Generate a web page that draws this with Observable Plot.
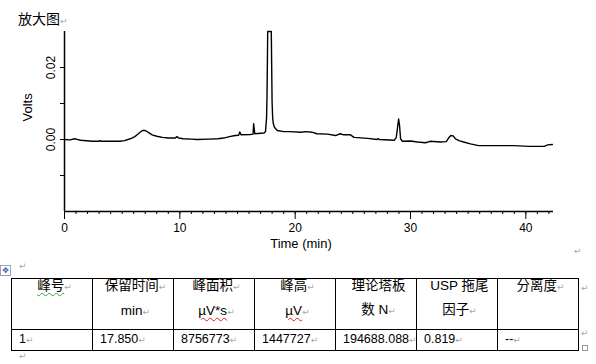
<!DOCTYPE html>
<html><head><meta charset="utf-8">
<script src="https://cdn.jsdelivr.net/npm/d3@7"></script>
<script src="https://cdn.jsdelivr.net/npm/@observablehq/plot@0.6"></script>
<style>
html,body{margin:0;padding:0;background:#fff;}
body{width:596px;height:364px;overflow:hidden;position:relative;font-family:"Liberation Sans",Arial,"Noto Sans CJK SC",sans-serif;color:#000;}
.pm{color:#a8a8a8;font-family:"DejaVu Sans",sans-serif;font-size:9px;font-weight:normal;}
#title{position:absolute;left:18px;top:10px;font-family:"Noto Sans CJK SC",sans-serif;font-size:14px;line-height:16px;}
#chart{position:absolute;left:0;top:26px;}
#tbl{position:absolute;left:11px;top:278px;border-collapse:collapse;table-layout:fixed;width:568px;}
#tbl td{border:1px solid #000;white-space:nowrap;overflow:visible;}
#tbl tr.hdr td{height:44px;vertical-align:top;text-align:center;padding:0 0 0 5px;font-size:13.5px;}
#tbl tr.hdr td div{line-height:24px;position:relative;top:-5px;font-family:"Liberation Sans",Arial,"Noto Sans CJK SC",sans-serif;}
#tbl tr.dat td{height:19px;vertical-align:middle;text-align:left;padding:0 0 0 7px;font-size:12.5px;line-height:19px;}
.wg{text-decoration:underline wavy #3a9a3a;text-decoration-thickness:1px;text-underline-offset:2px;}
.wr{text-decoration:underline wavy #e02020;text-decoration-thickness:1px;text-underline-offset:2px;}
.abs{position:absolute;}
#handle{position:absolute;left:0;top:265px;width:9px;height:9px;border:1px solid #9aa4b8;font-size:8px;line-height:9px;text-align:center;color:#2a5db0;font-family:"DejaVu Sans",sans-serif;}
#endbox{position:absolute;left:582px;top:345px;width:4px;height:4px;border:1px solid #9a9a9a;}
</style>
</head><body>
<div id="title">放大图<span class="pm">↵</span></div>
<div id="chart"></div>
<span class="pm abs" style="left:574px;top:246px">↵</span>
<div id="handle">✥</div>
<span class="pm abs" style="left:19px;top:261px">↵</span>
<table id="tbl"></table>
<span class="pm abs" style="left:581px;top:283px">↵</span>
<span class="pm abs" style="left:581px;top:328px">↵</span>
<div id="endbox"></div>
<span class="pm abs" style="left:19px;top:351px">↵</span>
<script>
// ---- chromatogram trace (time in min, signal in volts) ----
const times = [
  0, 0.5, 0.87, 1.0, 1.4, 2.4, 3.0, 3.1, 3.2, 4.8, 5.2, 5.7,
  6.1, 6.4, 6.75, 7.0, 7.3, 7.6, 8.0, 8.5, 9.0, 9.6, 9.75, 9.9,
  10.3, 11.0, 11.5, 12.5, 13.3, 13.8, 14.3, 14.8, 15.1, 15.2, 15.3, 16.1,
  16.35, 16.4, 16.5, 17.3, 17.43, 17.52, 17.56, 17.62, 17.85, 17.93, 18.0, 18.05,
  18.1, 18.2, 18.45, 19.0, 19.5, 20.5, 20.9, 21.5, 21.9, 22.8, 23.5, 23.9,
  24.2, 24.8, 25.1, 26.3, 27.1, 27.2, 27.3, 28.6, 28.77, 28.88, 28.97, 29.05,
  29.14, 29.3, 30.0, 30.6, 31.3, 31.7, 32.6, 33.1, 33.3, 33.5, 33.7, 33.9,
  34.2, 34.6, 35.2, 35.9, 39.0, 40.3, 41.6, 41.9, 42.3
];
const volts = [
  0.0000, -0.0001, 0.0002, 0.0001, -0.0002, -0.0005, -0.0005, -0.0003, -0.0005, -0.0005, -0.0003, 0.0002,
  0.0008, 0.0016, 0.0025, 0.0025, 0.0019, 0.0013, 0.0009, 0.0006, 0.0004, 0.0004, 0.0008, 0.0004,
  0.0002, 0.0001, 0.0000, 0.0001, 0.0002, 0.0004, 0.0008, 0.0011, 0.0012, 0.0021, 0.0013, 0.0014,
  0.0015, 0.0044, 0.0016, 0.0018, 0.0022, 0.0060, 0.0120, 0.0350, 1.4477, 0.0350, 0.0104, 0.0060,
  0.0045, 0.0034, 0.0025, 0.0022, 0.0022, 0.0020, 0.0022, 0.0020, 0.0016, 0.0015, 0.0011, 0.0016,
  0.0013, 0.0013, 0.0006, 0.0003, 0.0000, 0.0003, 0.0000, -0.0002, 0.0006, 0.0034, 0.0057, 0.0039,
  0.0002, -0.0005, -0.0004, -0.0007, -0.0009, -0.0005, -0.0007, -0.0006, 0.0004, 0.0011, 0.0010, 0.0002,
  -0.0003, -0.0007, -0.0012, -0.0017, -0.0017, -0.0019, -0.0019, -0.0015, -0.0014
];
const xDomain = [0, 42.4];
const yDomain = [-0.02, 0.03];
const xMajorTicks = [0, 10, 20, 30, 40];
const xMinorTicks = [0,1,2,3,4,5,6,7,8,9,10,11,12,13,14,15,16,17,18,19,20,21,22,23,24,25,26,27,28,29,30,31,32,33,34,35,36,37,38,39,40,41,42];
const yTicks = [-0.01, 0, 0.01, 0.02];
const yLabelTicks = [0, 0.02];
const xTitle = "Time (min)";
const yTitle = "Volts";

// ---- results table ----
const headerLines = [
  ["峰号↵"], ["保留时间↵", "min↵"], ["峰面积↵", "µV*s↵"], ["峰高↵", "µV↵"],
  ["理论塔板", "数 N↵"], ["USP 拖尾", "因子↵"], ["分离度↵"]
];
const rowValues = ["1", "17.850", "8756773", "1447727", "194688.088", "0.819", "--"];
const greenMarked = ["峰号"];
const redMarked = ["µV*s", "µV"];

const trace = times.map((t, i) => ({t, v: volts[i]}));

const chart = Plot.plot({
  width: 596, height: 232,
  marginTop: 5, marginBottom: 47, marginLeft: 64, marginRight: 43,
  x: {domain: xDomain},
  y: {domain: yDomain},
  style: {fontFamily: "Liberation Sans, Arial, sans-serif", fontSize: "12px", color: "#000", background: "transparent", overflow: "visible"},
  marks: [
    Plot.ruleX([xDomain[0]], {stroke: "#000", strokeWidth: 1.5}),
    Plot.ruleY([yDomain[0]], {stroke: "#000", strokeWidth: 1.5}),
    Plot.axisX(xMinorTicks, {tickSize: 3, tickFormat: () => "", label: null}),
    Plot.axisX(xMajorTicks, {tickSize: 8, tickPadding: 4, tickFormat: d => String(d), label: null, fontSize: 12}),
    Plot.axisY(yTicks, {tickSize: 4, tickFormat: () => "", label: null}),
    Plot.axisY(yLabelTicks, {tickSize: 4, tickRotate: -90, tickPadding: 6, tickFormat: d3.format(".2f"), label: null, fontSize: 12}),
    Plot.line(trace, {x: "t", y: d => Math.min(d.v, yDomain[1]), stroke: "#000", strokeWidth: 1.4}),
    Plot.text([yTitle], {text: d => d, frameAnchor: "left", rotate: -90, dx: -37, fontSize: 13}),
    Plot.text([xTitle], {text: d => d, frameAnchor: "bottom", dy: 36, dx: -8, fontSize: 13})
  ]
});
document.getElementById("chart").appendChild(chart);

function fmt(s) {
  let mark = "";
  if (s.endsWith("↵")) { s = s.slice(0, -1); mark = '<span class="pm">↵</span>'; }
  let body = s;
  if (greenMarked.includes(s)) body = `<span class="wg">${s}</span>`;
  else if (redMarked.includes(s)) body = `<span class="wr">${s}</span>`;
  return body + mark;
}
const tbl = document.getElementById("tbl");
let html = "<colgroup>" + headerLines.map(() => '<col style="width:81px">').join("") + "</colgroup>";
html += '<tr class="hdr">' + headerLines.map(lines => "<td><div>" + lines.map(fmt).join("<br>") + "</div></td>").join("") + "</tr>";
html += '<tr class="dat">' + rowValues.map(v => "<td>" + v + '<span class="pm">↵</span></td>').join("") + "</tr>";
tbl.innerHTML = html;
</script>
</body></html>
